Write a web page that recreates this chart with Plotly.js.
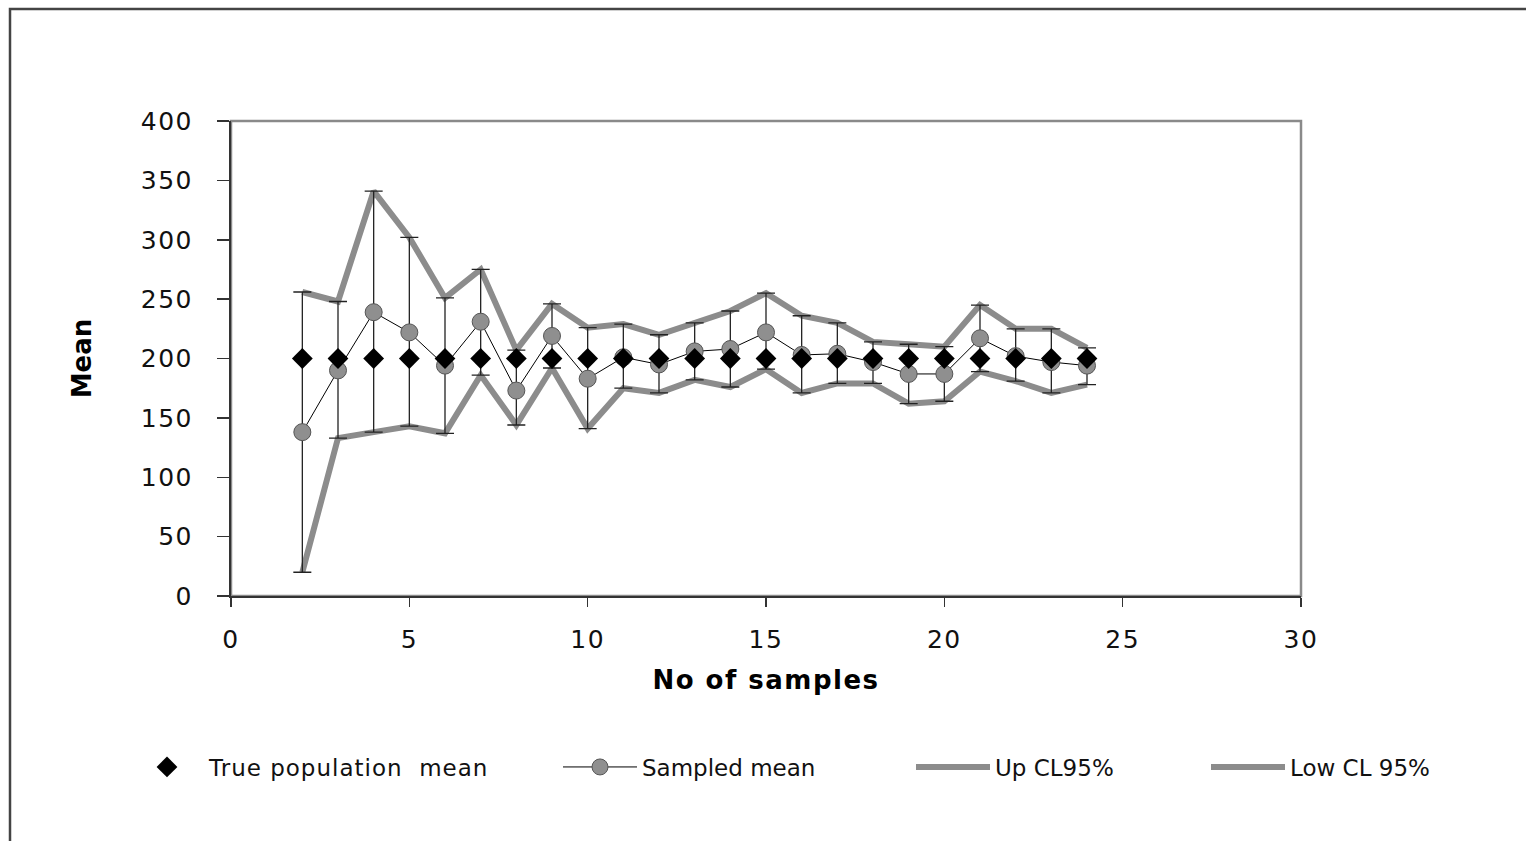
<!DOCTYPE html>
<html>
<head>
<meta charset="utf-8">
<script src="https://cdn.plot.ly/plotly-3.0.1.min.js"></script>
<style>
html, body { margin: 0; padding: 0; background: #ffffff; }
#chart { width: 1526px; height: 841px; }
.xtick text, .ytick text { letter-spacing: 1.5px; }
text.xtitle { letter-spacing: 1.5px; }
text.legendtext { letter-spacing: 1px; }
</style>
</head>
<body>
<div id="chart"></div>
<script>
// ---- data ----
const samples = [2, 3, 4, 5, 6, 7, 8, 9, 10, 11, 12, 13, 14, 15, 16, 17, 18, 19, 20, 21, 22, 23, 24];
const truePopulationMean = [200, 200, 200, 200, 200, 200, 200, 200, 200, 200, 200, 200, 200, 200, 200, 200, 200, 200, 200, 200, 200, 200, 200];
const sampledMean = [138, 190, 239, 222, 194, 231, 173, 219, 183, 201, 195, 206, 208, 222, 203, 204, 197, 187, 187, 217, 202, 197, 194];
const upCL95 = [256, 248, 341, 302, 251, 275, 207, 246, 226, 229, 220, 230, 240, 255, 236, 230, 214, 212, 210, 245, 225, 225, 209];
const lowCL95 = [20, 133, 138, 143, 137, 186, 144, 192, 141, 175, 171, 182, 176, 191, 171, 179, 179, 162, 164, 189, 181, 171, 178];
const seriesNames = ["True population\u00a0 mean", "Sampled mean", "Up CL95%", "Low CL 95%"];
const xTicks = [0, 5, 10, 15, 20, 25, 30];
const yTicks = [0, 50, 100, 150, 200, 250, 300, 350, 400];

const errPlus = sampledMean.map((m, i) => upCL95[i] - m);
const errMinus = sampledMean.map((m, i) => m - lowCL95[i]);

const FONT = "DejaVu Sans, Liberation Sans, Arial, sans-serif";
const CL_GREY = "#8c8c8c";

const traces = [
  {
    x: samples, y: upCL95, name: seriesNames[2], type: "scatter", mode: "lines",
    line: { color: CL_GREY, width: 6 }, legend: "legend3"
  },
  {
    x: samples, y: lowCL95, name: seriesNames[3], type: "scatter", mode: "lines",
    line: { color: CL_GREY, width: 6 }, legend: "legend4"
  },
  {
    x: samples, y: sampledMean, name: seriesNames[1], type: "scatter", mode: "lines+markers",
    line: { color: "#000000", width: 1 },
    marker: { symbol: "circle", size: 17, color: "#8f8f8f", line: { color: "#555555", width: 1 } },
    error_y: { type: "data", symmetric: false, array: errPlus, arrayminus: errMinus,
               color: "#222222", thickness: 1.3, width: 9 },
    legend: "legend2"
  },
  {
    x: samples, y: truePopulationMean, name: seriesNames[0], type: "scatter", mode: "markers",
    marker: { symbol: "diamond", size: 16, color: "#000000", line: { width: 0 } },
    legend: "legend"
  }
];

const L = 231, R = 225, T = 121, B = 245, W = 1526, H = 841;
const pw = W - L - R, ph = H - T - B;
const px = v => (v - L) / pw;        // pixel -> paper x
const py = v => (H - B - v) / ph;    // pixel -> paper y

const legendBase = {
  orientation: "h", yanchor: "middle", xanchor: "left",
  bgcolor: "rgba(0,0,0,0)", borderwidth: 0, itemwidth: 74,
  font: { family: FONT, size: 23, color: "#111111" }
};

const layout = {
  width: W, height: H,
  margin: { l: L, r: R, t: T, b: B, pad: 0 },
  paper_bgcolor: "#ffffff", plot_bgcolor: "#ffffff",
  font: { family: FONT, color: "#111111" },
  showlegend: true,
  xaxis: {
    range: [0, 30], tickvals: xTicks, ticktext: xTicks.map(String),
    showgrid: false, zeroline: false,
    showline: true, linecolor: "#333333", linewidth: 2,
    ticks: "outside", ticklen: 9, tickwidth: 1.5, tickcolor: "#333333",
    ticklabelstandoff: 11,
    tickfont: { family: FONT, size: 25, color: "#111111" },
    title: { text: "No of samples", font: { family: FONT, size: 26, color: "#000000", weight: "bold" }, standoff: 18 },
    automargin: false, fixedrange: true
  },
  yaxis: {
    range: [0, 400], tickvals: yTicks, ticktext: yTicks.map(String),
    showgrid: false, zeroline: false,
    showline: true, linecolor: "#333333", linewidth: 2,
    ticks: "outside", ticklen: 12, tickwidth: 1.5, tickcolor: "#333333",
    ticklabelstandoff: 19,
    tickfont: { family: FONT, size: 25, color: "#111111" },
    title: { text: "Mean", font: { family: FONT, size: 26, color: "#000000", weight: "bold" }, standoff: 42 },
    automargin: false, fixedrange: true
  },
  legend:  Object.assign({}, legendBase, { x: px(125), y: py(767) }),
  legend2: Object.assign({}, legendBase, { x: px(558), y: py(767) }),
  legend3: Object.assign({}, legendBase, { x: px(911), y: py(767) }),
  legend4: Object.assign({}, legendBase, { x: px(1206), y: py(767) }),
  shapes: [
    { type: "rect", xref: "paper", yref: "paper", x0: 0, x1: 1, y0: 0, y1: 1,
      line: { color: "#8a8a8a", width: 2.5 }, layer: "below" },
    { type: "path", xref: "paper", yref: "paper",
      path: "M " + px(10) + "," + py(850) + " L " + px(10) + "," + py(9) + " L " + px(1535) + "," + py(9),
      line: { color: "#444444", width: 2.5 }, layer: "below" }
  ]
};

Plotly.newPlot("chart", traces, layout, { displayModeBar: false, staticPlot: true });
</script>
</body>
</html>
